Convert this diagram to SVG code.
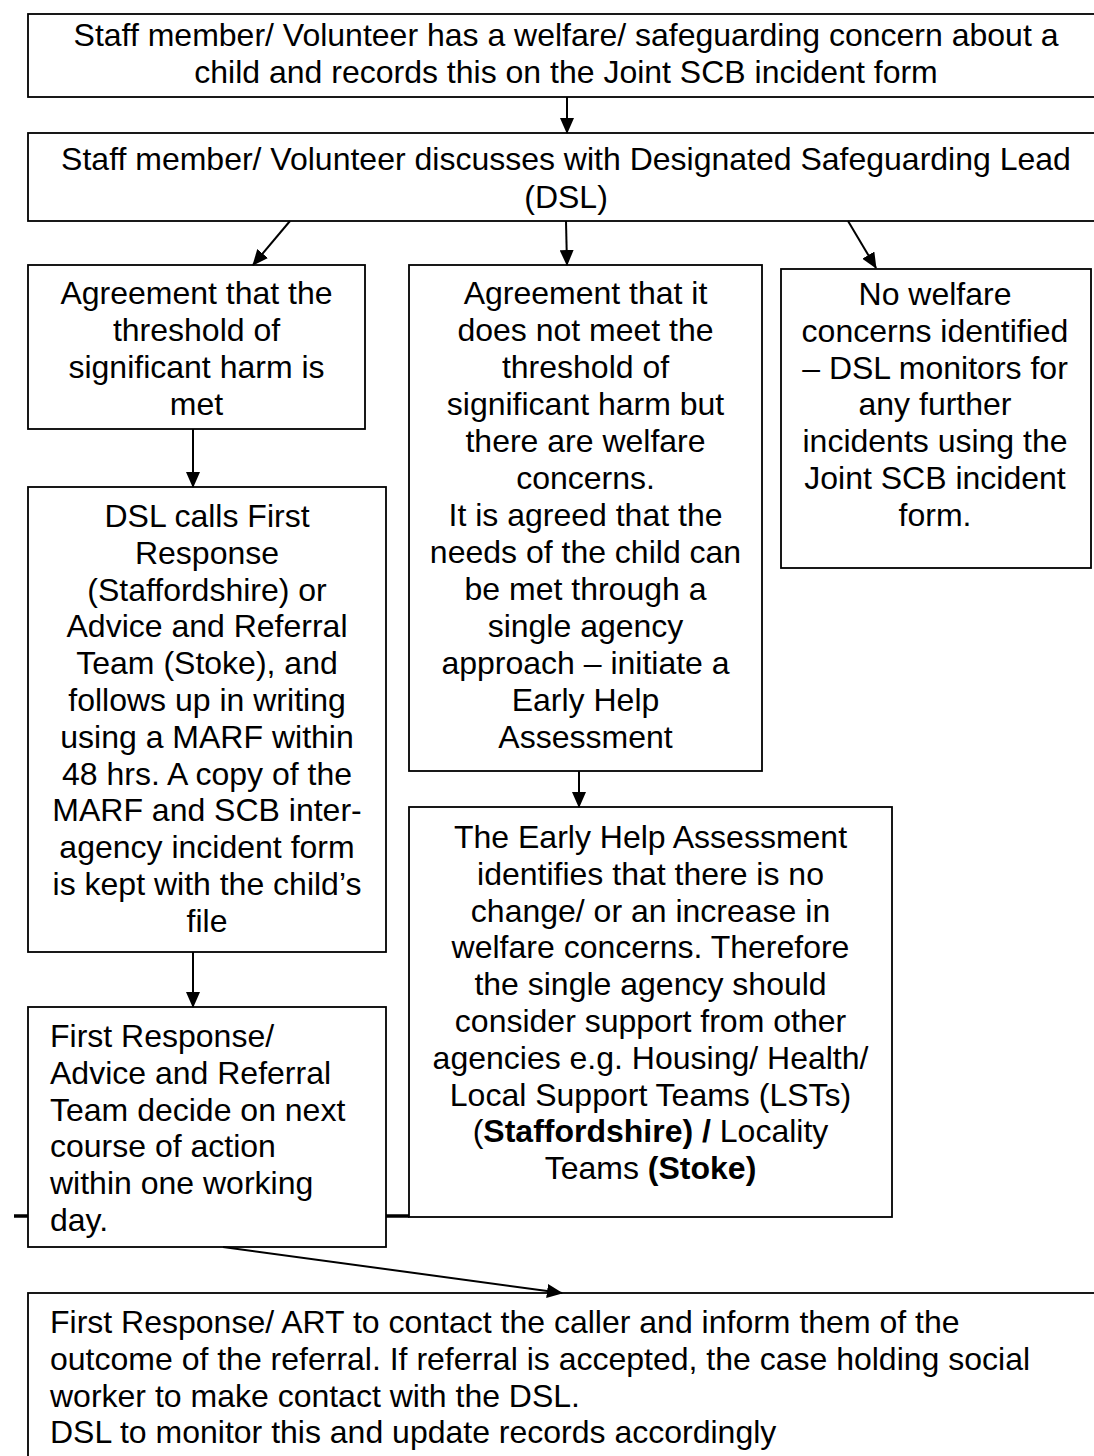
<svg xmlns="http://www.w3.org/2000/svg" width="1094" height="1456" viewBox="0 0 1094 1456">
<style>
.box{fill:#fff;stroke:#000;stroke-width:1.8}
.t{font-family:"Liberation Sans",Arial,sans-serif;font-size:32px;fill:#000}
.c{text-anchor:middle}
.b{font-weight:bold}
.conn{stroke:#000;stroke-width:2;fill:none}
</style>
<defs>
<marker id="ah" markerUnits="userSpaceOnUse" markerWidth="16" markerHeight="14" refX="15" refY="7" orient="auto" viewBox="0 0 16 14">
<path d="M0,0 L16,7 L0,14 z" fill="#000"/>
</marker>
</defs>
<rect x="0" y="0" width="1094" height="1456" fill="#fff"/>

<g id="n1">
<rect class="box" x="28" y="14" width="1090" height="83"/>
<text class="t c" x="566" y="46">Staff member/ Volunteer has a welfare/ safeguarding concern about a</text>
<text class="t c" x="566" y="83">child and records this on the Joint SCB incident form</text>
</g>

<g id="n2">
<rect class="box" x="28" y="133" width="1090" height="88"/>
<text class="t c" x="566" y="170">Staff member/ Volunteer discusses with Designated Safeguarding Lead</text>
<text class="t c" x="566" y="208">(DSL)</text>
</g>

<g id="n3">
<rect class="box" x="28" y="265" width="337" height="164"/>
<text class="t c" x="196.5" y="304">Agreement that the</text>
<text class="t c" x="196.5" y="341">threshold of</text>
<text class="t c" x="196.5" y="378">significant harm is</text>
<text class="t c" x="196.5" y="415">met</text>
</g>

<g id="n4">
<rect class="box" x="409" y="265" width="353" height="506"/>
<text class="t c" x="585.5" y="304">Agreement that it</text>
<text class="t c" x="585.5" y="341">does not meet the</text>
<text class="t c" x="585.5" y="378">threshold of</text>
<text class="t c" x="585.5" y="415">significant harm but</text>
<text class="t c" x="585.5" y="452">there are welfare</text>
<text class="t c" x="585.5" y="489">concerns.</text>
<text class="t c" x="585.5" y="526">It is agreed that the</text>
<text class="t c" x="585.5" y="563">needs of the child can</text>
<text class="t c" x="585.5" y="600">be met through a</text>
<text class="t c" x="585.5" y="637">single agency</text>
<text class="t c" x="585.5" y="674">approach – initiate a</text>
<text class="t c" x="585.5" y="711">Early Help</text>
<text class="t c" x="585.5" y="748">Assessment</text>
</g>

<g id="n5">
<rect class="box" x="781" y="269" width="310" height="299"/>
<text class="t c" x="935" y="305">No welfare</text>
<text class="t c" x="935" y="342">concerns identified</text>
<text class="t c" x="935" y="379">– DSL monitors for</text>
<text class="t c" x="935" y="415">any further</text>
<text class="t c" x="935" y="452">incidents using the</text>
<text class="t c" x="935" y="489">Joint SCB incident</text>
<text class="t c" x="935" y="526">form.</text>
</g>

<g id="n6">
<rect class="box" x="28" y="487" width="358" height="465"/>
<text class="t c" x="207" y="527">DSL calls First</text>
<text class="t c" x="207" y="564">Response</text>
<text class="t c" x="207" y="601">(Staffordshire) or</text>
<text class="t c" x="207" y="637">Advice and Referral</text>
<text class="t c" x="207" y="674">Team (Stoke), and</text>
<text class="t c" x="207" y="711">follows up in writing</text>
<text class="t c" x="207" y="748">using a MARF within</text>
<text class="t c" x="207" y="785">48 hrs. A copy of the</text>
<text class="t c" x="207" y="821">MARF and SCB inter-</text>
<text class="t c" x="207" y="858">agency incident form</text>
<text class="t c" x="207" y="895">is kept with the child’s</text>
<text class="t c" x="207" y="932">file</text>
</g>

<g id="n7">
<rect class="box" x="409" y="807" width="483" height="410"/>
<text class="t c" x="650.5" y="848">The Early Help Assessment</text>
<text class="t c" x="650.5" y="885">identifies that there is no</text>
<text class="t c" x="650.5" y="922">change/ or an increase in</text>
<text class="t c" x="650.5" y="958">welfare concerns. Therefore</text>
<text class="t c" x="650.5" y="995">the single agency should</text>
<text class="t c" x="650.5" y="1032">consider support from other</text>
<text class="t c" x="650.5" y="1069">agencies e.g. Housing/ Health/</text>
<text class="t c" x="650.5" y="1106">Local Support Teams (LSTs)</text>
<text class="t c" x="650.5" y="1142">(<tspan class="b">Staffordshire) /</tspan> Locality</text>
<text class="t c" x="650.5" y="1179">Teams <tspan class="b">(Stoke)</tspan></text>
</g>

<g id="n8">
<rect class="box" x="28" y="1007" width="358" height="240"/>
<text class="t" x="50" y="1047">First Response/</text>
<text class="t" x="50" y="1084">Advice and Referral</text>
<text class="t" x="50" y="1121">Team decide on next</text>
<text class="t" x="50" y="1157">course of action</text>
<text class="t" x="50" y="1194">within one working</text>
<text class="t" x="50" y="1231">day.</text>
</g>

<g id="n9">
<rect class="box" x="28" y="1293" width="1090" height="200"/>
<text class="t" x="50" y="1333">First Response/ ART to contact the caller and inform them of the</text>
<text class="t" x="50" y="1370">outcome of the referral. If referral is accepted, the case holding social</text>
<text class="t" x="50" y="1407">worker to make contact with the DSL.</text>
<text class="t" x="50" y="1443">DSL to monitor this and update records accordingly</text>
</g>

<g id="connectors">
<line class="conn" x1="567" y1="97" x2="567" y2="133" marker-end="url(#ah)"/>
<line class="conn" x1="290" y1="221" x2="253" y2="265" marker-end="url(#ah)"/>
<line class="conn" x1="566" y1="221" x2="567" y2="265" marker-end="url(#ah)"/>
<line class="conn" x1="848" y1="221" x2="876" y2="268" marker-end="url(#ah)"/>
<line class="conn" x1="193" y1="429" x2="193" y2="487" marker-end="url(#ah)"/>
<line class="conn" x1="579" y1="771" x2="579" y2="807" marker-end="url(#ah)"/>
<line class="conn" x1="193" y1="952" x2="193" y2="1007" marker-end="url(#ah)"/>
<line class="conn" x1="223" y1="1247" x2="562" y2="1293" stroke-width="3" marker-end="url(#ah)"/>
<line x1="14" y1="1216" x2="28" y2="1216" stroke="#000" stroke-width="3.5"/>
<line x1="386" y1="1216" x2="409" y2="1216" stroke="#000" stroke-width="3.5"/>
</g>
</svg>
